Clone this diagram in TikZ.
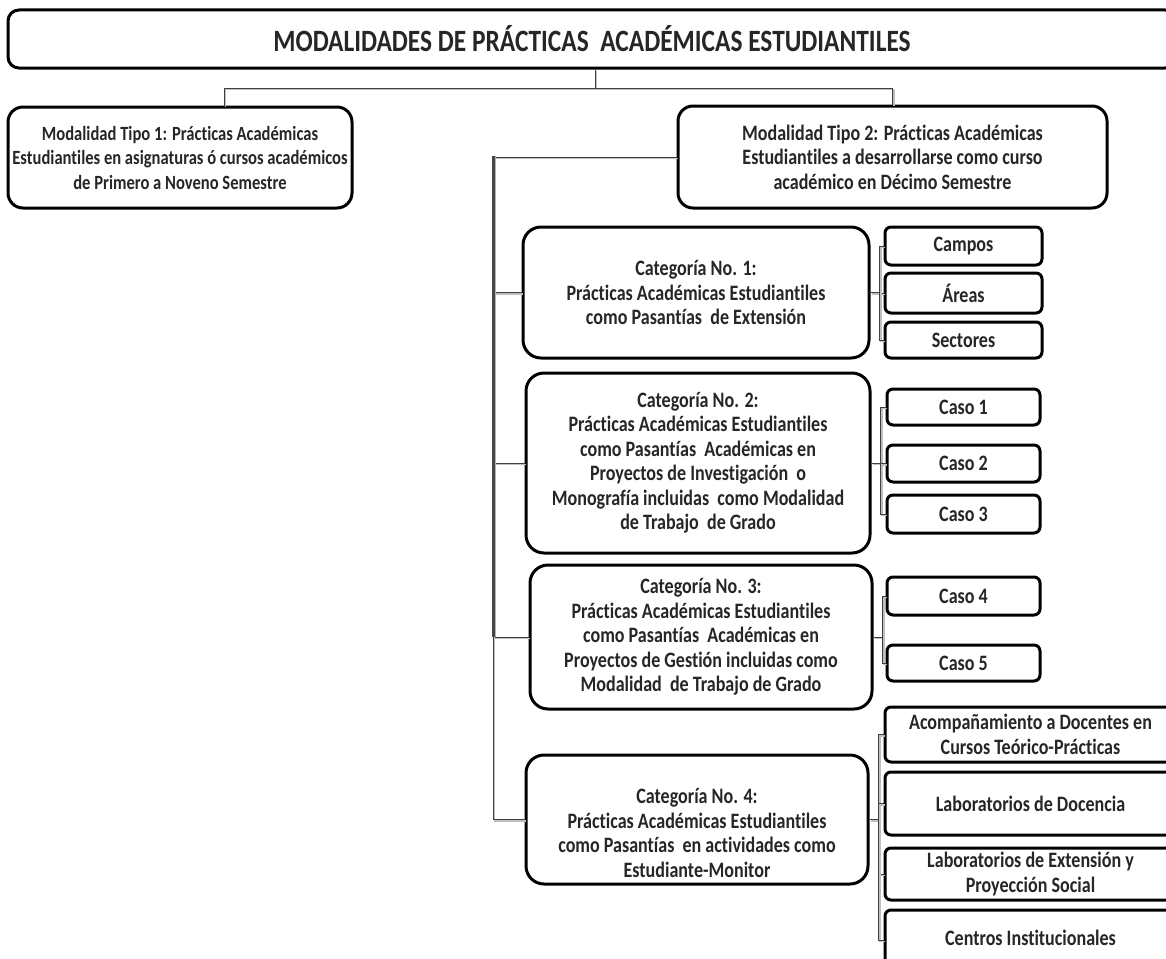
\documentclass[tikz,border=0pt]{standalone}
\usepackage{fontspec}
\setmainfont{Carlito}[FakeStretch=0.82, Ligatures=NoCommon]
\begin{document}
\begin{tikzpicture}[x=1pt,y=-1pt,
  txt/.style={font=\bfseries\fontsize{22}{24.5}\selectfont, align=center, text=black!85},
  bigbox/.style={txt, draw=black, line width=3pt, rounded corners=18pt, inner sep=0pt, fill=white},
  smallbox/.style={txt, draw=black, line width=3pt, rounded corners=6pt, inner sep=0pt, fill=white},
  conn/.style={draw=black!75, line width=1pt, preaction={draw=black!25, line width=1.2pt, transform canvas={shift={(1.5pt,-1.5pt)}}}},
  busline/.style={draw=black!72, line width=3pt, preaction={draw=black!30, line width=3pt, transform canvas={shift={(1.5pt,0pt)}}}}
]
\useasboundingbox (0,0) rectangle (1166,958);
% title
\node[bigbox, rounded corners=11pt, minimum width=1168pt, minimum height=58pt, font=\bfseries\fontsize{31}{34}\selectfont] (title) at (592,39) {MODALIDADES DE PRÁCTICAS \ ACADÉMICAS ESTUDIANTILES};
% level 1
\node[bigbox, rounded corners=15pt, minimum width=344pt, minimum height=101pt, font=\bfseries\fontsize{20.2}{24.5}\selectfont] (tipo1) at (180,157.5) {Modalidad Tipo 1: Prácticas Académicas\\Estudiantiles en asignaturas ó cursos académicos\\de Primero a Noveno Semestre};
\node[bigbox, rounded corners=15pt, minimum width=429pt, minimum height=102pt] (tipo2) at (892.5,157) {Modalidad Tipo 2: Prácticas Académicas\\Estudiantiles a desarrollarse como curso\\académico en Décimo Semestre};
% categories
\node[bigbox, minimum width=346pt, minimum height=131pt] (cat1) at (696,292.5) {Categoría No. 1:\\Prácticas Académicas Estudiantiles\\como Pasantías \ de Extensión};
\node[bigbox, minimum width=344pt, minimum height=180pt] (cat2) at (698,463) {Categoría No. 2:\\Prácticas Académicas Estudiantiles\\como Pasantías \ Académicas en\\Proyectos de Investigación \ o\\Monografía incluidas \ como Modalidad\\de Trabajo \ de Grado};
\node[bigbox, minimum width=342pt, minimum height=144pt] (cat3) at (701,637) {Categoría No. 3:\\Prácticas Académicas Estudiantiles\\como Pasantías \ Académicas en\\Proyectos de Gestión incluidas como\\Modalidad \ de Trabajo de Grado};
\node[bigbox, minimum width=342pt, minimum height=129pt] (cat4) at (697,819.5) {};
\node[txt] (cat4t) at (697,833) {Categoría No. 4:\\Prácticas Académicas Estudiantiles\\como Pasantías \ en actividades como\\Estudiante-Monitor};
% children of cat1
\node[smallbox, minimum width=157pt, minimum height=38pt] (campos) at (963.5,246) {Campos};
\node[smallbox, minimum width=157pt, minimum height=40pt] (areas) at (963.5,293) {Áreas};
\node[smallbox, minimum width=157pt, minimum height=36pt] (sectores) at (963.5,340) {Sectores};
% children of cat2
\node[smallbox, minimum width=153pt, minimum height=36pt] (caso1) at (963.5,407) {Caso 1};
\node[smallbox, minimum width=153pt, minimum height=37pt] (caso2) at (963.5,463.5) {Caso 2};
\node[smallbox, minimum width=153pt, minimum height=38pt] (caso3) at (963.5,514) {Caso 3};
% children of cat3
\node[smallbox, minimum width=153pt, minimum height=38pt] (caso4) at (963.5,596) {Caso 4};
\node[smallbox, minimum width=153pt, minimum height=36pt] (caso5) at (963.5,663) {Caso 5};
% children of cat4
\node[smallbox, minimum width=291pt, minimum height=55pt] (acomp) at (1030.5,734.5) {Acompañamiento a Docentes en\\Cursos Teórico-Prácticas};
\node[smallbox, minimum width=291pt, minimum height=63pt] (labdoc) at (1030.5,803.5) {Laboratorios de Docencia};
\node[smallbox, minimum width=291pt, minimum height=52pt] (labext) at (1030.5,874) {Laboratorios de Extensión y\\Proyección Social};
\node[smallbox, minimum width=291pt, minimum height=60pt] (centros) at (1030.5,940) {};
\node[txt] (centrost) at (1030.5,938) {Centros Institucionales};
% connectors: title to level 1
\coordinate (tj) at (595,88);
\draw[conn] (title.south -| tj) -- (tj) -| (tipo1.north -| 224,0);
\draw[conn] (tj) -| (tipo2.north);
% bus from tipo2 to categories
\coordinate (bus) at (493,157);
\draw[conn] (tipo2.west) -- (bus) |- (cat1.west);
\draw[conn] (bus) |- (cat2.west);
\draw[conn] (bus) |- (cat3.west);
\draw[conn] (bus) |- (cat4.west);
\draw[busline] (493,156) -- (493,637);
% brackets
\foreach \p/\c in {cat1/campos,cat1/areas,cat1/sectores,cat2/caso1,cat2/caso2,cat2/caso3,cat3/caso4,cat3/caso5,cat4/acomp,cat4/labdoc,cat4/labext,cat4/centros}{
  \draw[conn] (\p.east) -- ++(9,0) |- (\c.west);
}
\end{tikzpicture}
\end{document}
